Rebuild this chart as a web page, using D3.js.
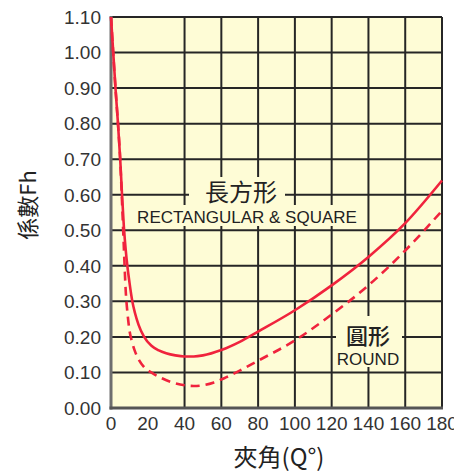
<!DOCTYPE html>
<html><head><meta charset="utf-8">
<script src="https://cdn.jsdelivr.net/npm/d3@7"></script>
<style>
html,body{margin:0;padding:0;background:#fff;}
svg{display:block;}
</style></head>
<body>
<svg id="c" width="454" height="473"></svg>
<script>
// ---- data ----
const xTicks = [0,20,40,60,80,100,120,140,160,180];
const xGrid = [40,60,80,100,120,140,160];
const yTicks = [0,0.1,0.2,0.3,0.4,0.5,0.6,0.7,0.8,0.9,1.0,1.1];
const yTickLabels = ["0.00","0.10","0.20","0.30","0.40","0.50","0.60","0.70","0.80","0.90","1.00","1.10"];
const rectAngles = [0,2.5,3.8,5,6,7,8,9,10,11.6,13,15,18,22,26,30,35,40,45,50,60,70,80,100,120,140,160,180];
const rectValues = [1.10,0.895,0.80,0.70,0.60,0.51,0.445,0.395,0.355,0.30,0.268,0.234,0.20,0.175,0.162,0.154,0.148,0.145,0.145,0.148,0.163,0.186,0.215,0.275,0.345,0.425,0.52,0.64];
const roundAngles = [0,2.5,3.8,5,6,7,8,9,10,11.6,13,15,18,22.5,28,34,40,45,50,56,62.5,70,80,100,120,140,160,180];
const roundValues = [1.10,0.895,0.80,0.70,0.58,0.45,0.33,0.265,0.22,0.183,0.16,0.137,0.115,0.098,0.083,0.071,0.064,0.062,0.064,0.072,0.086,0.105,0.133,0.19,0.263,0.345,0.443,0.555];
const yTitle = "係數Fh";
const xTitle = "夾角(Q°)";
const rectLabelZh = "長方形", rectLabelEn = "RECTANGULAR & SQUARE";
const roundLabelZh = "圓形", roundLabelEn = "ROUND";

// ---- drawing ----
const svg = d3.select("#c");
const x = d3.scaleLinear().domain([0,180]).range([111,442]);
const y = d3.scaleLinear().domain([0,1.1]).range([408,17]);
const bg = "#fefcd6", red = "#f0233d", grid = "#262626";
const latin = "'Liberation Sans', Arial, sans-serif";
const cjk = "'Noto Sans CJK TC', 'Noto Sans CJK SC', sans-serif";

svg.append("rect").attr("x",x(0)).attr("y",y(1.1)).attr("width",x(180)-x(0)).attr("height",y(0)-y(1.1)).attr("fill",bg);

// grid
const g = svg.append("g");
g.selectAll("line.h").data(yTicks.slice(1)).join("line")
  .attr("x1",x(0)).attr("x2",x(180)).attr("y1",d=>y(d)).attr("y2",d=>y(d))
  .attr("stroke",grid).attr("stroke-width",2);
g.selectAll("line.v").data(xGrid.concat([180])).join("line")
  .attr("y1",y(0)).attr("y2",y(1.1)).attr("x1",d=>x(d)).attr("x2",d=>x(d))
  .attr("stroke",grid).attr("stroke-width",2);

// label background boxes (interrupt gridlines)
svg.append("rect").attr("x",189).attr("y",177).attr("width",96).attr("height",28).attr("fill",bg);
svg.append("rect").attr("x",128).attr("y",205).attr("width",238).attr("height",21).attr("fill",bg);
svg.append("rect").attr("x",336).attr("y",316).attr("width",66).attr("height",51).attr("fill",bg);

// axes (left & bottom, grey)
svg.append("line").attr("x1",x(0)).attr("x2",x(0)).attr("y1",y(1.1)-1).attr("y2",y(0)+1.5).attr("stroke","#6e6e6e").attr("stroke-width",3);
svg.append("line").attr("x1",x(0)-1.5).attr("x2",x(180)+1).attr("y1",y(0)).attr("y2",y(0)).attr("stroke","#555").attr("stroke-width",3);

// curves
const line = d3.line().x(d=>x(d[0])).y(d=>y(d[1])).curve(d3.curveMonotoneX);
svg.append("path").datum(roundAngles.map((a,i)=>[a,roundValues[i]]))
  .attr("d",line).attr("fill","none").attr("stroke",red).attr("stroke-width",2.6).attr("stroke-dasharray","9,6");
svg.append("path").datum(rectAngles.map((a,i)=>[a,rectValues[i]]))
  .attr("d",line).attr("fill","none").attr("stroke",red).attr("stroke-width",2.6);

// tick labels
svg.selectAll("text.yt").data(yTicks).join("text")
  .attr("x",101).attr("y",d=>y(d)).attr("dy","0.36em").attr("text-anchor","end")
  .attr("font-family",latin).attr("font-size",19).attr("fill","#333").text((d,i)=>yTickLabels[i]);
svg.selectAll("text.xt").data(xTicks).join("text")
  .attr("x",d=>x(d)).attr("y",430).attr("text-anchor","middle")
  .attr("font-family",latin).attr("font-size",19).attr("fill","#333").text(d=>d);

// titles
svg.append("text").attr("transform","translate(36,205) rotate(-90)").attr("text-anchor","middle")
  .attr("font-family",cjk).attr("font-size",22).attr("fill","#222").text(yTitle);
svg.append("text").attr("x",279).attr("y",466).attr("text-anchor","middle")
  .attr("font-family",cjk).attr("font-size",24).attr("fill","#222").text(xTitle);

// series labels
svg.append("text").attr("x",241).attr("y",201).attr("text-anchor","middle")
  .attr("font-family",cjk).attr("font-size",24).attr("fill","#222").text(rectLabelZh);
svg.append("text").attr("x",247).attr("y",223).attr("text-anchor","middle")
  .attr("font-family",latin).attr("font-size",17).attr("fill","#222").text(rectLabelEn);
svg.append("text").attr("x",368).attr("y",344).attr("text-anchor","middle")
  .attr("font-family",cjk).attr("font-size",22).attr("font-weight",500).attr("fill","#222").text(roundLabelZh);
svg.append("text").attr("x",368).attr("y",365).attr("text-anchor","middle")
  .attr("font-family",latin).attr("font-size",17).attr("fill","#222").text(roundLabelEn);
</script>
</body></html>
